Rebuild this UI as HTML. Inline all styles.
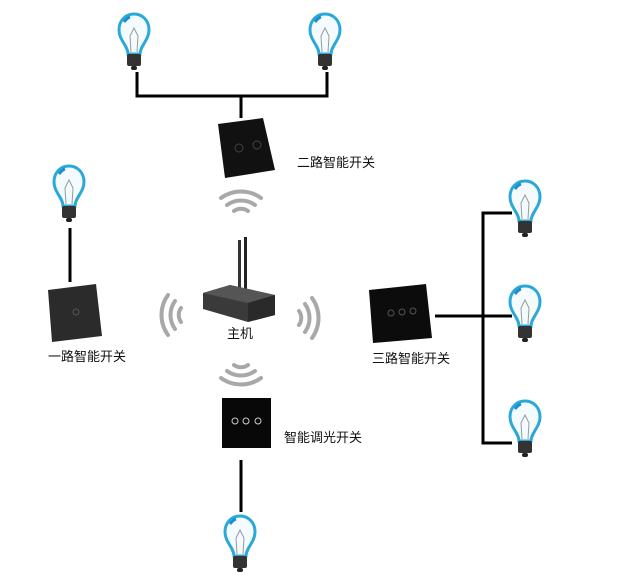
<!DOCTYPE html>
<html><head><meta charset="utf-8"><style>
body{margin:0;background:#fff;width:624px;height:584px;overflow:hidden}
svg{display:block}
text{font-family:"Liberation Sans","Noto Sans CJK SC",sans-serif;font-size:13px;fill:#111}
</style></head><body>
<svg width="624" height="584" viewBox="0 0 624 584" xmlns="http://www.w3.org/2000/svg">
<defs>
<g id="bulb">
<path d="M-6,14 C-6,6 -15,0 -15,-10 C-15,-20 -8,-26 0,-26 C8,-26 15,-20 15,-10 C15,0 6,6 6,14 Z" fill="#f4fbfe" stroke="#2aa8d8" stroke-width="3"/>
<path d="M-3,12 L-4,-4 L0,-12 L4,-4 L3,12" fill="none" stroke="#999" stroke-width="1"/>
<rect x="-7" y="14" width="14" height="12" rx="2" fill="#333"/>
<rect x="-3" y="26" width="6" height="4" rx="2" fill="#222"/>
<path d="M-10,-18 q3,-4 6,-5" stroke="#1a8fd0" stroke-width="3" fill="none"/>
</g>
<g id="arcs" fill="none" stroke="#a8a8a8" stroke-width="4" stroke-linecap="round">
<path d="M-7,-3 A12,12 0 0 1 7,-3"/>
<path d="M-14,-9 A24,24 0 0 1 14,-9"/>
<path d="M-20,-16 A34,34 0 0 1 20,-16"/>
</g>
</defs>
<g stroke="#000" stroke-width="3" fill="none">
<path d="M137,72 V96 H327 V72 M241,96 V118"/>
<path d="M70,228 V282"/>
<path d="M435,316 H512 M512,213 H483 V443 H512"/>
<path d="M241,460 V512"/>
</g>
<use href="#bulb" x="134" y="40"/>
<use href="#bulb" x="325" y="40"/>
<use href="#bulb" x="69" y="192"/>
<use href="#bulb" x="525" y="207"/>
<use href="#bulb" x="525" y="312"/>
<use href="#bulb" x="525" y="427"/>
<use href="#bulb" x="240" y="542"/>
<polygon points="218,124 263,118 275,170 225,178" fill="#111"/>
<circle cx="239" cy="148" r="4" fill="none" stroke="#444"/><circle cx="257" cy="145" r="4" fill="none" stroke="#444"/>
<polygon points="48,290 96,284 102,336 52,342" fill="#2b2b2b"/>
<circle cx="76" cy="312" r="3" fill="none" stroke="#555"/>
<polygon points="369,290 426,284 432,338 373,343" fill="#0c0c0c"/>
<circle cx="391" cy="313" r="3" fill="none" stroke="#555"/><circle cx="402" cy="312" r="3" fill="none" stroke="#555"/><circle cx="413" cy="311" r="3" fill="none" stroke="#555"/>
<rect x="222" y="398" width="49" height="50" fill="#080808"/>
<circle cx="235" cy="421" r="3" fill="none" stroke="#ccc"/><circle cx="246" cy="421" r="3" fill="none" stroke="#ccc"/><circle cx="258" cy="421" r="3" fill="none" stroke="#ccc"/>
<rect x="238" y="240" width="3" height="56" fill="#333"/><rect x="244" y="237" width="3" height="56" fill="#222"/>
<polygon points="203,293 230,285 275,295 275,315 248,322 203,309" fill="#3a3a3a"/>
<polygon points="203,293 230,285 275,295 248,303" fill="#555"/>
<polygon points="248,303 275,295 275,315 248,322" fill="#2a2a2a"/>
<use href="#arcs" transform="translate(241,214)"/>
<use href="#arcs" transform="translate(241,362) rotate(180)"/>
<use href="#arcs" transform="translate(184,315) rotate(-90)"/>
<use href="#arcs" transform="translate(296,318) rotate(90)"/>
<text x="297" y="167">二路智能开关</text>
<text x="48" y="361">一路智能开关</text>
<text x="227" y="338">主机</text>
<text x="372" y="363">三路智能开关</text>
<text x="284" y="442">智能调光开关</text>
</svg>
</body></html>
